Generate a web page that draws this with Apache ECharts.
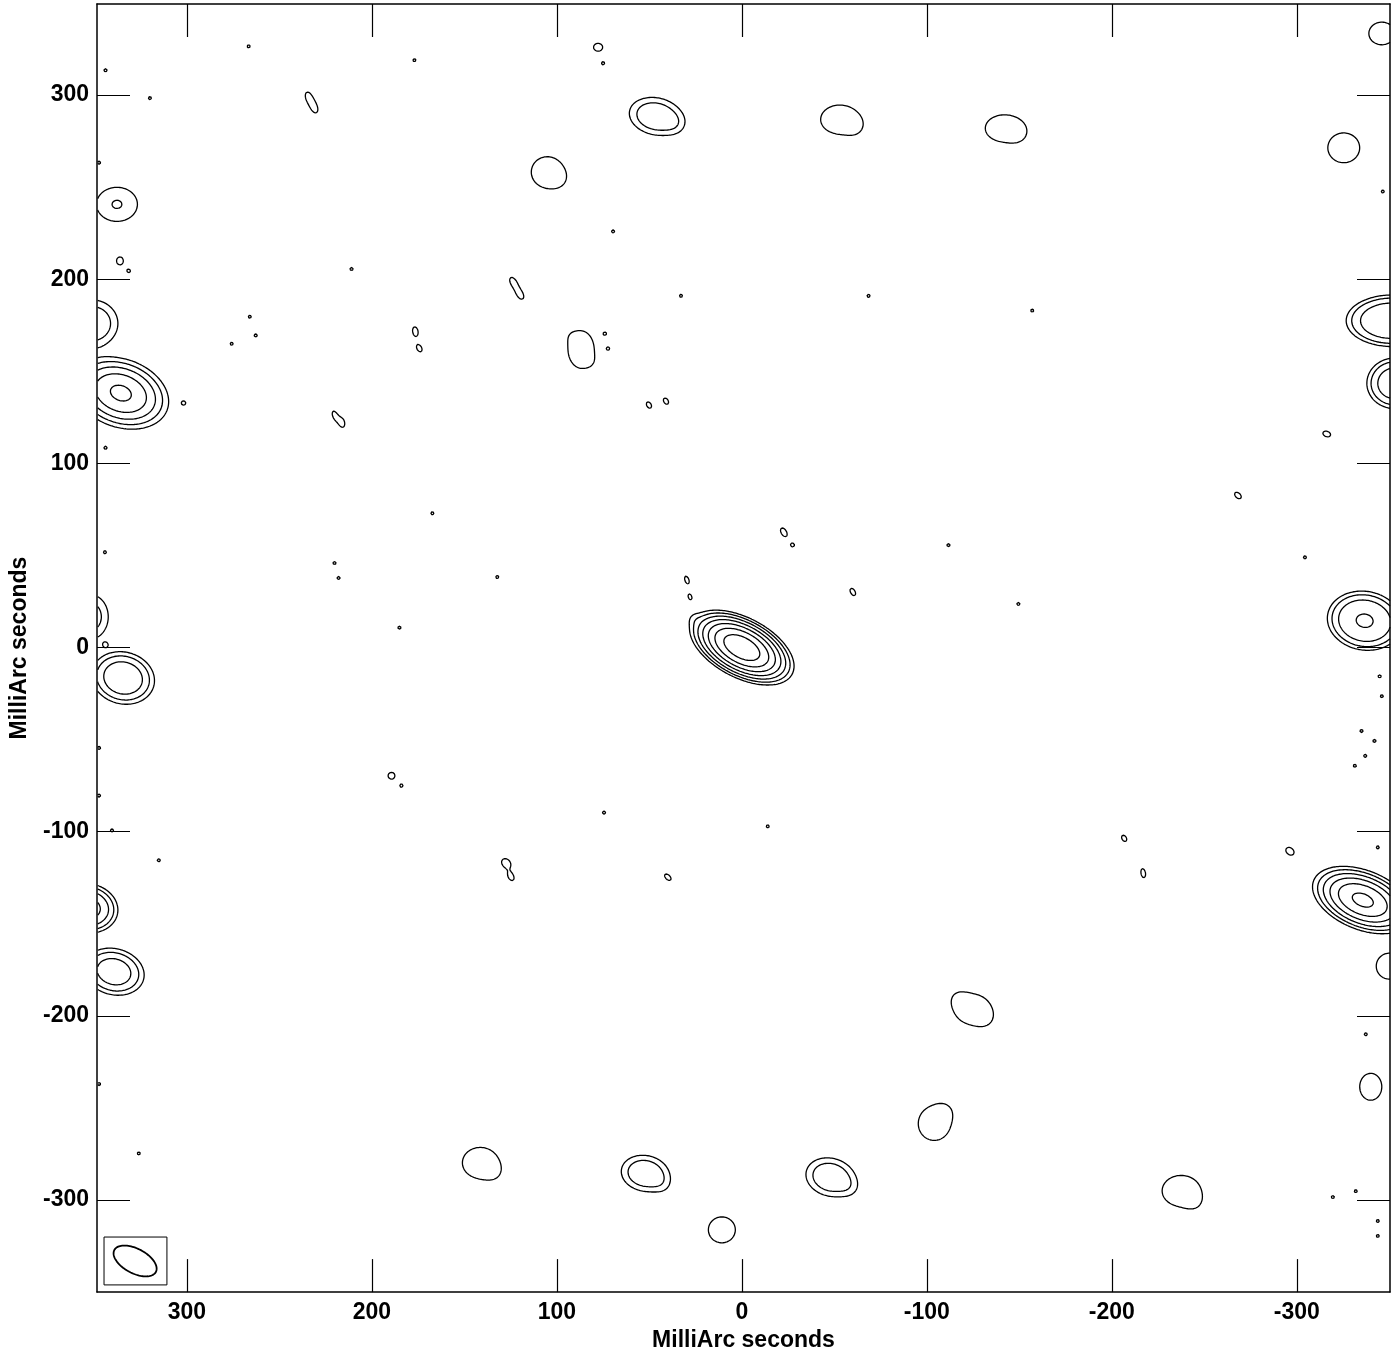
<!DOCTYPE html>
<html>
<head>
<meta charset="utf-8">
<script src="https://cdn.jsdelivr.net/npm/echarts@6/dist/echarts.min.js"></script>
<style>
html,body{margin:0;padding:0;background:#fff;}
#chart{width:1399px;height:1357px;}
</style>
</head>
<body>
<div id="chart"></div>
<script>
const tickValues = [-300, -200, -100, 0, 100, 200, 300];
const xRange = [-350.4, 348.6];
const yRange = [-350, 349.5];
// contour levels in units of the lowest contour
const contourLevels = [1, 2, 4, 8, 16, 32, 64];

// bright components: [x, y, peak, HWHM major, HWHM minor, angle(deg), profile exponent]
const brightSources = [
  [0, 0, 112, 11.8, 6.2, 28, 1],
  [25.9, 15.7, 0.5, 3, 3, 0, 1],
  [335.7, 138.2, 18.4, 13, 9, 20, 1],
  [-335.7, -137.1, 37.5, 12.5, 7, 22, 1],
  [-336.7, 14.6, 8.2, 14, 11, 10, 1.5],
  [334.5, -16.5, 7.5, 11, 9, 15, 1.2],
  [339.4, -176, 6.3, 11, 8.3, 15, 1.2],
  [354, -141.5, 11, 10, 8, 10, 1.2],
  [-353, 143.5, 6, 11, 10, 0, 1.5],
  [-351.5, 177.5, 6.5, 18.8, 10.6, 0, 1.8]
];

// faint replicas: [x, y, peak, HWHM major, HWHM minor, angle(deg)]
const ghostSources = [
  [46.4, 288.5, 3, 12.5, 8.6, 12],
  [-52.9, 286.8, 1.6, 11.7, 8.9, 0],
  [-141.9, 282, 1.6, 11.7, 8.3, 0],
  [-325.4, 271.4, 1.6, 9.8, 9.2, 0],
  [105.2, 258.2, 1.6, 9.8, 9.5, 0],
  [-346, 333.5, 1.6, 8, 7, 0],
  [86.9, 161.9, 1.6, 8, 11.4, 0],
  [141.4, -279.8, 1.6, 11, 9.5, 0],
  [52.3, -285.5, 3, 11.1, 8.3, 10],
  [-48, -287.6, 3, 11.6, 8.8, 15],
  [-124.7, -196.4, 1.6, 10.8, 9.2, 0],
  [-104, -258.5, 1.6, 9.8, 10.4, 0],
  [-237.5, -295, 1.6, 11.7, 9.5, 0],
  [10.8, -316.2, 1.6, 8.3, 8, 0],
  [-340, -238.5, 1.6, 6.8, 8.3, 0],
  [-350, -173, 1.6, 8, 8, 0],
  [337.8, 240.7, 2.02, 11, 9.2, 0],
  [351.3, 176, 3, 12, 11, 0],
  [352.4, 16.7, 2.5, 9, 11, 0]
];

// faint lobes that roughen the outlines of the replicas: [x, y, peak, HWHM major, HWHM minor, angle(deg)]
const ghostLobes = [
  [-116.5, -190, 0.7, 5, 5, 0], [-131.7, -201.8, 0.7, 5, 5, 0],
  [-110, -251.5, 0.7, 5, 5, 0],
  [94, 170, 0.3, 4, 4, 0], [80.5, 154.5, 0.3, 4, 4, 0],
  [-61.5, 282.4, 0.7, 5, 5, 0],
  [98.8, 254.2, 0.6, 5, 5, 0],
  [133.8, -285.5, 0.6, 5, 5, 0],
  [-149.5, 278.4, 0.6, 5, 5, 0],
  [-245, -301.9, 0.6, 5, 5, 0],
  [35.6, 283.9, 0.6, 5, 5, 0],
  [-58.8, -293.8, 0.6, 5, 5, 0],
  [42.6, -292.2, 0.6, 5, 5, 0]
];

// small noise peaks: [x, y, peak, HWHM major, HWHM minor, angle(deg)]
const noiseBlobs = [
  [234.2, 299, 1.3, 4.2, 2.4, 70], [231, 293, 1.3, 4.2, 2.4, 70],
  [77.7, 326, 1.3, 4, 3.5, 0],
  [123.6, 198.6, 1.3, 4.2, 2.4, 60], [119.8, 191.6, 1.3, 4.2, 2.4, 60],
  [176.5, 171.6, 1.3, 4.2, 2.4, 80], [174.3, 162.4, 1.3, 3, 2, 60],
  [-316.2, 116, 1.3, 3.5, 2.4, 20],
  [-268.2, 82.6, 1.3, 3.5, 2.2, 45],
  [-22.7, 62.6, 1.3, 4.2, 2.4, 60],
  [29.7, 36.7, 1.3, 3.5, 1.8, 70], [28, 27.5, 1.2, 3, 1.8, 70],
  [-60, 30.2, 1.3, 3.5, 2, 60],
  [127.4, -117.1, 1.3, 4.5, 3.5, 45], [124.7, -124.7, 1.3, 3, 2, 60],
  [40, -124.7, 1.3, 3.5, 2, 45],
  [-206.7, -103.6, 1.3, 3, 2, 60],
  [-296.3, -110.6, 1.3, 4, 3, 40],
  [189.4, -69.6, 1.3, 3, 3, 0],
  [220, 126, 1.3, 4, 2, 70], [216, 122, 1.3, 3.5, 2, 80],
  [336.2, 210, 1.3, 3.5, 3, 90],
  [50.2, 131.7, 1.3, 3, 2, 60], [41, 133.8, 1.3, 3, 2, 60],
  [-217, -122.5, 1.3, 4, 2, 80]
];

// isolated single-pixel noise peaks: [x, y]
const noiseDots = [
  [75, 317.3], [266.6, 326.5], [177, 319], [320, 298.4], [344, 313.5], [331.4, 204.5],
  [211, 205.6], [275.8, 165], [266, 179.7], [262.8, 169.5], [301.7, 132.8], [69.6, 226],
  [32.9, 191], [-68.5, 191], [-157, 183], [74, 170.5], [72.3, 162.4], [-111.7, 55.6],
  [-149.5, 23.7], [-304.4, 49], [167.3, 72.9], [220.2, 45.9], [218, 37.8], [132.2, 38.3],
  [185.1, 10.8], [344.3, 51.8], [344, 1.6], [347.5, -54.5], [347.5, -80.4], [340.5, -99.3],
  [315.2, -115.5], [74.5, -89.6], [-14, -97.1], [-343.8, -108.5], [-335, -45.3], [-342, -50.7],
  [-331.4, -64.2], [-337, -58.8], [-344.8, -15.6], [-346, -26.4], [347.5, -237], [326, -274.7],
  [-319.5, -298.4], [-331.9, -295.2], [-343.8, -311.4], [-343.8, -319.5], [-337.3, -210],
  [-346.5, 247.7], [347.5, 263.3], [344, 108.5], [-27.5, 55.6], [184, -75]
];

// restoring beam: centre, FWHM major/minor (mas), angle of major axis (deg, from +x towards +y)
const beamCenter = [328, -333.1];
const beamFWHM = [25.4, 13.3];
const beamAngle = 28;
const beamBox = [[344.8, -320.1], [310.8, -346.1]];

// ---------------- model image + contouring ----------------
const STEP = 0.7;
const X0 = xRange[0], Y0 = yRange[0];
const NX = Math.floor((xRange[1] - xRange[0]) / STEP) + 1;
const NY = Math.floor((yRange[1] - yRange[0]) / STEP) + 1;
const field = new Float32Array(NX * NY);

function addComponent(c, k) {
  const cx = c[0], cy = c[1], P = c[2], a = c[3], b = c[4], ang = c[5] * Math.PI / 180;
  const ca = Math.cos(ang), sa = Math.sin(ang);
  const R = Math.max(a, b) * 3.6;
  const i0 = Math.max(0, Math.floor((cx - R - X0) / STEP)), i1 = Math.min(NX - 1, Math.ceil((cx + R - X0) / STEP));
  const j0 = Math.max(0, Math.floor((cy - R - Y0) / STEP)), j1 = Math.min(NY - 1, Math.ceil((cy + R - Y0) / STEP));
  for (let j = j0; j <= j1; j++) {
    const dy = Y0 + j * STEP - cy;
    for (let i = i0; i <= i1; i++) {
      const dx = X0 + i * STEP - cx;
      const u = dx * ca + dy * sa, v = -dx * sa + dy * ca;
      const q = u * u / (a * a) + v * v / (b * b);
      field[j * NX + i] += P * Math.pow(2, -Math.pow(q, k));
    }
  }
}
brightSources.forEach(c => addComponent(c, c[6]));
ghostSources.forEach(c => addComponent(c, 1.5));
ghostLobes.forEach(c => addComponent(c, 1));
noiseBlobs.forEach(c => addComponent(c, 1));
noiseDots.forEach(d => addComponent([d[0], d[1], 1.12, 2, 2, 0], 1));

const CASES = {1:[[3,0]],2:[[0,1]],3:[[3,1]],4:[[1,2]],5:[[3,0],[1,2]],6:[[0,2]],7:[[3,2]],
  8:[[2,3]],9:[[0,2]],10:[[0,1],[2,3]],11:[[1,2]],12:[[1,3]],13:[[0,1]],14:[[3,0]]};

function contourPolylines(L) {
  const segs = [];
  const adj = new Map();
  for (let j = 0; j < NY - 1; j++) {
    for (let i = 0; i < NX - 1; i++) {
      const v0 = field[j * NX + i], v1 = field[j * NX + i + 1];
      const v2 = field[(j + 1) * NX + i + 1], v3 = field[(j + 1) * NX + i];
      const c = (v0 > L ? 1 : 0) | (v1 > L ? 2 : 0) | (v2 > L ? 4 : 0) | (v3 > L ? 8 : 0);
      if (c === 0 || c === 15) continue;
      const e = [2 * (j * NX + i), 2 * (j * NX + i + 1) + 1, 2 * ((j + 1) * NX + i), 2 * (j * NX + i) + 1];
      for (const p of CASES[c]) {
        const s = segs.length;
        const a = e[p[0]], b = e[p[1]];
        segs.push([a, b]);
        if (!adj.has(a)) adj.set(a, []); adj.get(a).push(s);
        if (!adj.has(b)) adj.set(b, []); adj.get(b).push(s);
      }
    }
  }
  function pt(id) {
    const cell = id >> 1, i = cell % NX, j = (cell - i) / NX;
    const f0 = field[cell];
    if ((id & 1) === 0) {
      const f1 = field[cell + 1];
      const t = (L - f0) / (f1 - f0);
      return [X0 + (i + t) * STEP, Y0 + j * STEP];
    } else {
      const f1 = field[cell + NX];
      const t = (L - f0) / (f1 - f0);
      return [X0 + i * STEP, Y0 + (j + t) * STEP];
    }
  }
  const used = new Uint8Array(segs.length);
  const lines = [];
  function walk(startEdge, chain) {
    let cur = startEdge;
    while (true) {
      const list = adj.get(cur);
      let next = -1;
      for (const s of list) if (!used[s]) { next = s; break; }
      if (next < 0) break;
      used[next] = 1;
      const sg = segs[next];
      cur = sg[0] === cur ? sg[1] : sg[0];
      chain.push(cur);
    }
  }
  for (let s = 0; s < segs.length; s++) {
    if (used[s]) continue;
    used[s] = 1;
    const fwd = [segs[s][0], segs[s][1]];
    walk(segs[s][1], fwd);
    const bwd = [];
    walk(segs[s][0], bwd);
    const ids = bwd.reverse().concat(fwd);
    lines.push({ coords: ids.map(pt) });
  }
  return lines;
}

let contourData = [];
contourLevels.forEach(L => { contourData = contourData.concat(contourPolylines(L)); });

// ---------------- chart ----------------
const FONT = "'Liberation Sans', Arial, Helvetica, sans-serif";
const labelStyle = { fontSize: 23, fontWeight: 'bold', color: '#000', fontFamily: FONT };
function axisCommon(extra) {
  return Object.assign({
    type: 'value',
    axisLine: { show: true, onZero: false, lineStyle: { color: '#000', width: 1.5 } },
    axisTick: { show: true, inside: true, length: 33, customValues: tickValues, lineStyle: { color: '#000', width: 1.2 } },
    splitLine: { show: false }
  }, extra);
}

const chart = echarts.init(document.getElementById('chart'), null, { renderer: 'canvas' });
chart.setOption({
  backgroundColor: '#fff',
  animation: false,
  grid: { left: 95, right: 9, top: 4, bottom: 58, containLabel: false },
  xAxis: [
    axisCommon({ position: 'bottom', inverse: true, min: xRange[0], max: xRange[1],
      axisLabel: Object.assign({ customValues: tickValues, margin: 9 }, labelStyle),
      name: 'MilliArc seconds', nameLocation: 'middle', nameGap: 31, nameTextStyle: labelStyle }),
    axisCommon({ position: 'top', inverse: true, min: xRange[0], max: xRange[1], axisLabel: { show: false } })
  ],
  yAxis: [
    axisCommon({ position: 'left', min: yRange[0], max: yRange[1],
      axisLabel: Object.assign({ customValues: tickValues, margin: 8 }, labelStyle),
      name: 'MilliArc seconds', nameLocation: 'middle', nameGap: 66, nameTextStyle: labelStyle }),
    axisCommon({ position: 'right', min: yRange[0], max: yRange[1], axisLabel: { show: false } })
  ],
  series: [
    {
      type: 'lines', coordinateSystem: 'cartesian2d', polyline: true, silent: true, clip: true,
      xAxisIndex: 0, yAxisIndex: 0,
      lineStyle: { color: '#000', width: 1.3, opacity: 1 },
      data: contourData
    },
    {
      type: 'custom', coordinateSystem: 'cartesian2d', xAxisIndex: 0, yAxisIndex: 0, silent: true,
      data: [[beamCenter[0], beamCenter[1]]],
      renderItem: function (params, api) {
        const ang = beamAngle * Math.PI / 180, ca = Math.cos(ang), sa = Math.sin(ang);
        const pts = [];
        for (let t = 0; t < 96; t++) {
          const th = t / 96 * 2 * Math.PI;
          const u = beamFWHM[0] / 2 * Math.cos(th), v = beamFWHM[1] / 2 * Math.sin(th);
          pts.push(api.coord([beamCenter[0] + u * ca - v * sa, beamCenter[1] + u * sa + v * ca]));
        }
        const p1 = api.coord(beamBox[0]), p2 = api.coord(beamBox[1]);
        return {
          type: 'group',
          children: [
            { type: 'rect', shape: { x: Math.min(p1[0], p2[0]), y: Math.min(p1[1], p2[1]),
                width: Math.abs(p2[0] - p1[0]), height: Math.abs(p2[1] - p1[1]) },
              style: { fill: 'none', stroke: '#000', lineWidth: 1 } },
            { type: 'polygon', shape: { points: pts }, style: { fill: 'none', stroke: '#000', lineWidth: 1.8 } }
          ]
        };
      }
    }
  ]
});
</script>
</body>
</html>
